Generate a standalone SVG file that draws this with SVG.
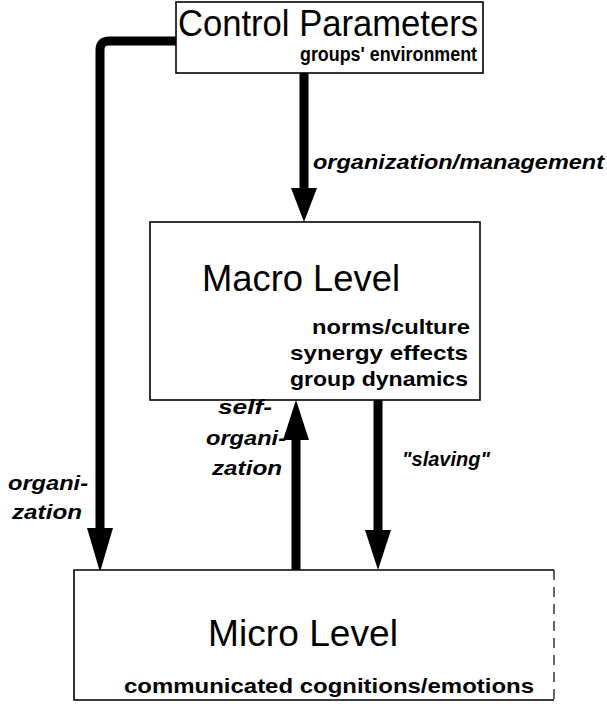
<svg xmlns="http://www.w3.org/2000/svg" width="607" height="704" viewBox="0 0 607 704">
<defs>
<style>
.box{fill:#fff;stroke:#000;stroke-width:1.6}
.title{font-family:"Liberation Sans",Arial,sans-serif;font-size:37px;fill:#000}
.sub{font-family:"Liberation Sans",Arial,sans-serif;font-size:21px;font-weight:bold;fill:#000}
.lab{font-family:"Liberation Sans",Arial,sans-serif;font-size:21px;font-weight:bold;font-style:italic;fill:#000}
.con{fill:none;stroke:#000;stroke-width:9}
.head{fill:#000}
</style>
</defs>
<g id="connectors">
<path class="con" d="M176,41 L109,41 Q100,41 100,50 L100,532"/>
<polygon class="head" points="87,528 113,528 100,572"/>
<path class="con" d="M304,73 L304,192"/>
<polygon class="head" points="291,188 317,188 304,222"/>
<path class="con" d="M296,570 L296,436"/>
<polygon class="head" points="283,440 309,440 296,400"/>
<path class="con" d="M378,400 L378,534"/>
<polygon class="head" points="365,530 391,530 378,570"/>
</g>
<g id="control">
<rect class="box" x="176" y="2" width="307" height="71"/>
<text class="title" x="178" y="36" textLength="300" lengthAdjust="spacingAndGlyphs">Control Parameters</text>
<text class="sub" x="300" y="61" textLength="177" lengthAdjust="spacingAndGlyphs">groups' environment</text>
</g>
<g id="macro">
<rect class="box" x="150" y="222" width="330" height="178"/>
<text class="title" x="202" y="291" font-size="41" textLength="198" lengthAdjust="spacingAndGlyphs">Macro Level</text>
<text class="sub" x="312" y="334" textLength="158" lengthAdjust="spacingAndGlyphs">norms/culture</text>
<text class="sub" x="290" y="360" textLength="178" lengthAdjust="spacingAndGlyphs">synergy effects</text>
<text class="sub" x="290" y="386" textLength="178" lengthAdjust="spacingAndGlyphs">group dynamics</text>
</g>
<g id="micro">
<path class="box" d="M554,700 L74,700 L74,570 L554,570" fill="none"/>
<line x1="554" y1="570" x2="554" y2="700" stroke="#000" stroke-width="1.2" stroke-dasharray="10,7"/>
<text class="title" x="208" y="646" font-size="41" textLength="190" lengthAdjust="spacingAndGlyphs">Micro Level</text>
<text class="sub" x="124" y="693" textLength="410" lengthAdjust="spacingAndGlyphs">communicated cognitions/emotions</text>
</g>
<g id="labels">
<text class="lab" x="313" y="169" textLength="291" lengthAdjust="spacingAndGlyphs">organization/management</text>
<text class="lab" x="8" y="490" textLength="80" lengthAdjust="spacingAndGlyphs">organi-</text>
<text class="lab" x="12" y="519" textLength="70" lengthAdjust="spacingAndGlyphs">zation</text>
<text class="lab" x="218" y="414" textLength="54" lengthAdjust="spacingAndGlyphs">self-</text>
<text class="lab" x="206" y="445" textLength="80" lengthAdjust="spacingAndGlyphs">organi-</text>
<text class="lab" x="212" y="475" textLength="70" lengthAdjust="spacingAndGlyphs">zation</text>
<text class="lab" x="402" y="466" textLength="88" lengthAdjust="spacingAndGlyphs">"slaving"</text>
</g>
</svg>
